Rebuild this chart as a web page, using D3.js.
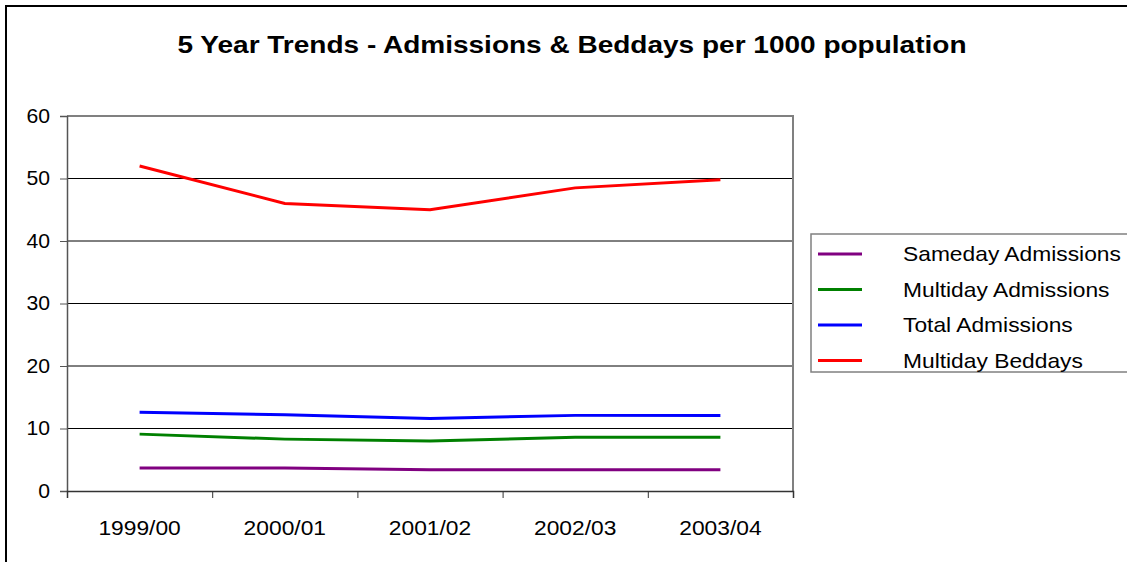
<!DOCTYPE html>
<html>
<head>
<meta charset="utf-8">
<script src="https://cdn.jsdelivr.net/npm/d3@7"></script>
<style>
  body { margin: 0; background: #fff; }
  text { font-family: Arial, "Liberation Sans", sans-serif; fill: #000; }
</style>
</head>
<body>
<div id="chart"></div>
<script>
// chart size
var w = 1127;
var h = 562;

// data
var years = ["1999/00", "2000/01", "2001/02", "2002/03", "2003/04"];
var seriesNames = ["Sameday Admissions", "Multiday Admissions", "Total Admissions", "Multiday Beddays"];
var sameday = [3.7, 3.7, 3.4, 3.4, 3.4];
var multiday = [9.1, 8.3, 8.0, 8.6, 8.6];
var total = [12.6, 12.2, 11.6, 12.1, 12.1];
var beddays = [52.0, 46.0, 45.0, 48.5, 49.8];
var yTicks = [0, 10, 20, 30, 40, 50, 60];
var colors = ["#800080", "#008000", "#0000ff", "#ff0000"];

var allSeries = [sameday, multiday, total, beddays];

var sx = 1.14; // text looks horizontally stretched in the original

var svg = d3.select("#chart")
            .append("svg")
            .attr("width", w)
            .attr("height", h);

// outer frame
svg.append("rect")
   .attr("x", 6).attr("y", 6)
   .attr("width", w + 10).attr("height", h + 10)
   .attr("fill", "none")
   .attr("stroke", "#000")
   .attr("stroke-width", 2);

// title
svg.append("text")
   .attr("x", 572).attr("y", 53)
   .attr("text-anchor", "middle")
   .attr("font-size", 24)
   .attr("font-weight", "bold")
   .attr("textLength", 789)
   .attr("lengthAdjust", "spacingAndGlyphs")
   .text("5 Year Trends - Admissions & Beddays per 1000 population");

var plot = { left: 67, right: 793, top: 116, bottom: 491 };

var x = d3.scaleBand()
          .domain(years)
          .range([plot.left, plot.right]);

var y = d3.scaleLinear()
          .domain([0, 60])
          .range([plot.bottom, plot.top]);

// gridlines
svg.append("g")
   .selectAll("line")
   .data(yTicks.filter(function (d) { return d > 0 && d < 60; }))
   .enter()
   .append("line")
   .attr("x1", plot.left).attr("x2", plot.right)
   .attr("y1", function (d) { return y(d); })
   .attr("y2", function (d) { return y(d); })
   .attr("stroke", "#000")
   .attr("stroke-width", 1);

// plot border (top + right)
svg.append("path")
   .attr("d", "M" + plot.left + "," + y(60) + "H" + plot.right + "V" + plot.bottom)
   .attr("fill", "none")
   .attr("stroke", "#808080")
   .attr("stroke-width", 2);

// y axis
var yAxis = svg.append("g")
   .attr("transform", "translate(" + plot.left + ",0)")
   .call(d3.axisLeft(y).tickValues(yTicks).tickSize(7).tickPadding(10));
yAxis.select(".domain").attr("stroke", "#555").attr("stroke-width", 1.5);
yAxis.selectAll(".tick line").attr("stroke", "#555");
yAxis.selectAll("text")
   .attr("font-size", 20)
   .attr("font-family", "Arial, 'Liberation Sans', sans-serif")
   .attr("transform", "scale(1.06,1)")
   .attr("x", -17 / 1.06);

// x axis, ticks sit between categories
var xEdges = d3.scaleLinear().domain([0, years.length]).range([plot.left, plot.right]);
var xAxis = svg.append("g")
   .attr("transform", "translate(0," + plot.bottom + ")")
   .call(d3.axisBottom(xEdges).ticks(years.length).tickSize(7).tickFormat(""));
xAxis.select(".domain").attr("stroke", "#333").attr("stroke-width", 1.5);
xAxis.selectAll(".tick line").attr("stroke", "#333");

svg.append("g")
   .selectAll("text")
   .data(years)
   .enter()
   .append("text")
   .attr("transform", function (d) {
       return "translate(" + (x(d) + x.bandwidth() / 2) + ",535) scale(" + sx + ",1)";
   })
   .attr("text-anchor", "middle")
   .attr("font-size", 20)
   .text(function (d) { return d; });

// lines
var line = d3.line()
   .x(function (d, i) { return x(years[i]) + x.bandwidth() / 2; })
   .y(function (d) { return y(d); });

svg.append("g")
   .selectAll("path")
   .data(allSeries)
   .enter()
   .append("path")
   .attr("d", function (d) { return line(d); })
   .attr("fill", "none")
   .attr("stroke", function (d, i) { return colors[i]; })
   .attr("stroke-width", 3);

// legend
var legend = svg.append("g");
legend.append("rect")
   .attr("x", 811).attr("y", 234)
   .attr("width", 330).attr("height", 138)
   .attr("fill", "#fff")
   .attr("stroke", "#808080")
   .attr("stroke-width", 1.5);

var items = legend.selectAll("g.item")
   .data(seriesNames)
   .enter()
   .append("g")
   .attr("class", "item")
   .attr("transform", function (d, i) { return "translate(0," + (254 + i * 35.5) + ")"; });

items.append("line")
   .attr("x1", 818).attr("x2", 862)
   .attr("y1", 0).attr("y2", 0)
   .attr("stroke", function (d, i) { return colors[i]; })
   .attr("stroke-width", 3);

items.append("text")
   .attr("transform", "translate(903,7) scale(" + sx + ",1)")
   .attr("font-size", 20)
   .text(function (d) { return d; });
</script>
</body>
</html>
